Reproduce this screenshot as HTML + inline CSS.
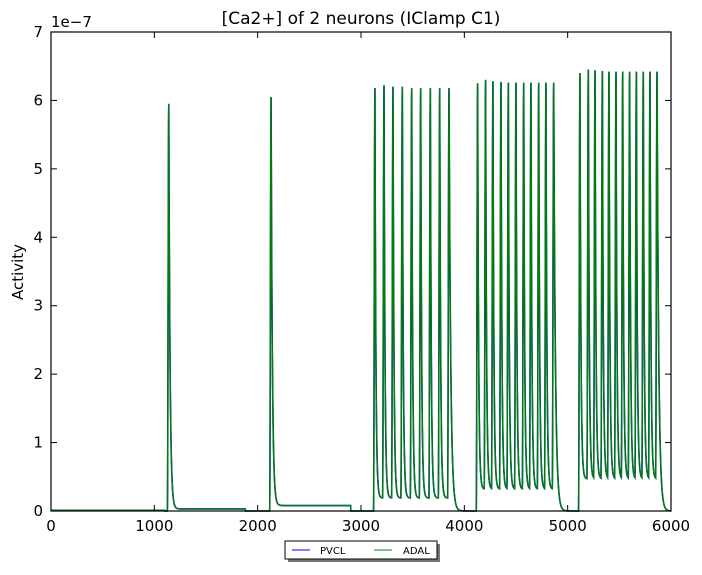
<!DOCTYPE html>
<html><head><meta charset="utf-8"><style>
body{margin:0;background:#fff;}
svg text{font-family:"DejaVu Sans","Liberation Sans",sans-serif;}
</style></head><body>
<svg id="chart" width="702" height="570" xmlns="http://www.w3.org/2000/svg">
<rect width="702" height="570" fill="#fff"/>
<text x="361" y="24" font-size="17" text-anchor="middle">[Ca2+] of 2 neurons (IClamp C1)</text>
<text x="51" y="27" font-size="15">1e−7</text>
<text transform="translate(23,272) rotate(-90)" font-size="15" text-anchor="middle">Activity</text>
<g id="plot"></g>
<g id="axes"></g>
<g>
<rect x="288" y="544" width="152" height="18" fill="#555" opacity="0.8"/>
<rect x="285" y="541" width="152" height="18" fill="#fff" stroke="#000" stroke-width="1"/>
<line x1="292" y1="550" x2="310" y2="550" stroke="#0000ff"/>
<text x="320" y="554" font-size="10">PVCL</text>
<line x1="374" y1="550" x2="392" y2="550" stroke="#008000"/>
<text x="403" y="554" font-size="10">ADAL</text>
</g>
</svg>
<script>
const xTicks=[0,1000,2000,3000,4000,5000,6000];
const yTicks=[0,1,2,3,4,5,6,7];
const spikeTimes1=[1140];
const spikeTimes2=[2130];
const spikeTimes3=[3135,3223,3310,3400,3491,3578,3671,3762,3852];
const spikeTimes4=[4129,4206,4277,4355,4426,4500,4575,4645,4720,4790,4865];
const spikeTimes5=[5119,5200,5265,5336,5400,5468,5533,5600,5665,5732,5797,5865];
const peaks1=[5.95];
const peaks2=[6.05];
const peaks3=[6.18,6.22,6.2,6.2,6.18,6.18,6.18,6.18,6.18];
const peaks4=[6.25,6.3,6.28,6.27,6.26,6.26,6.26,6.26,6.26,6.26,6.26];
const peaks5=[6.4,6.45,6.44,6.43,6.42,6.42,6.42,6.42,6.42,6.42,6.42,6.42];
const floors=[0.03,0.08,0.19,0.32,0.47];
const holdEnds=[1880,2900,null,null,null];
const baseline=0.01;

const X0=51,X1=671,Y0=511,Y1=32;
const xs=v=>X0+(v/6000)*(X1-X0);
const ys=v=>Y0-(v/7)*(Y0-Y1);
const blocks=[[spikeTimes1,peaks1],[spikeTimes2,peaks2],[spikeTimes3,peaks3],[spikeTimes4,peaks4],[spikeTimes5,peaks5]];
const RISE=14, TAU=9;
function val(t){
  let v=t<1100?baseline:0;
  for(let b=0;b<blocks.length;b++){
    const [st,pk]=blocks[b];const f=floors[b];
    if(t<st[0]-RISE)continue;
    let k=-1;for(let i=0;i<st.length;i++)if(t>=st[i]-RISE)k=i;
    if(k<0)continue;
    const dt=t-(st[k]-RISE);
    const last=k===st.length-1;
    const hold=holdEnds[b];
    let fl=(!last||hold)?f:0;
    if(hold&&t>hold)fl=0;
    const prevV=k>0?f+(pk[k-1]-f)*Math.exp(-(st[k]-RISE-st[k-1])/TAU):(b===0?baseline:0);
    let r;
    if(dt<RISE){const u=dt/RISE;r=prevV+(pk[k]-prevV)*(1-Math.cos(Math.PI*u))/2;}
    else{const tau=last&&!hold?16:(last?12:TAU);r=fl+(pk[k]-fl)*Math.exp(-(dt-RISE)/tau);}
    v=r;
  }
  return v;
}
const plot=document.getElementById('plot');
function series(color,name,w){
  let d='';
  for(let t=0;t<=6000;t+=1){d+=(t?'L':'M')+xs(t).toFixed(2)+','+ys(val(t)).toFixed(2);}
  const p=document.createElementNS('http://www.w3.org/2000/svg','path');
  p.setAttribute('d',d);p.setAttribute('fill','none');p.setAttribute('stroke',color);p.setAttribute('stroke-width',w);
  
  
  plot.appendChild(p);
}
series('#0000ff','pvcl-line',1.6);
series('#008000','adal-line',1.4);
const ax=document.getElementById('axes');
let h=`<rect x="${X0}" y="${Y1}" width="${X1-X0}" height="${Y0-Y1}" fill="none" stroke="#000" stroke-width="1.2"/>`;
xTicks.forEach(t=>{const x=xs(t);h+=`<line x1="${x}" y1="${Y0}" x2="${x}" y2="${Y0-6}" stroke="#000"/><line x1="${x}" y1="${Y1}" x2="${x}" y2="${Y1+6}" stroke="#000"/><text x="${x}" y="${Y0+20}" font-size="15" text-anchor="middle">${t}</text>`;});
yTicks.forEach(t=>{const y=ys(t);h+=`<line x1="${X0}" y1="${y}" x2="${X0+6}" y2="${y}" stroke="#000"/><line x1="${X1}" y1="${y}" x2="${X1-6}" y2="${y}" stroke="#000"/><text x="${X0-8}" y="${y+5}" font-size="15" text-anchor="end">${t}</text>`;});
ax.innerHTML=h;


</script>
</body></html>
